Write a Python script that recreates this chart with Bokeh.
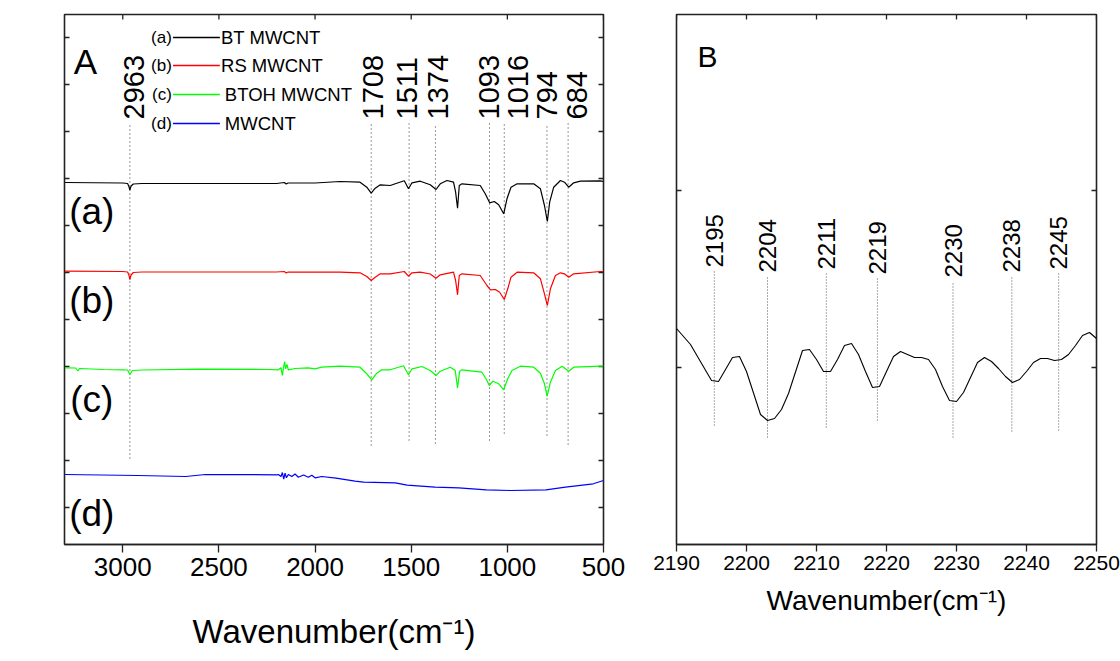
import math
from bokeh.plotting import figure
from bokeh.models import Range1d, FixedTicker, Label, ColumnDataSource
from bokeh.layouts import row
from bokeh.embed import file_html
from bokeh.resources import INLINE
from bokeh.core.properties import value

FONT = "Liberation Sans, Arial"

# ---------------- Panel A data (wavenumber, %T offset units) ----------------
a_wn = [3300, 3000, 2975, 2968, 2963, 2957, 2945, 2900, 2600, 2200, 2160, 2150, 2140, 2000, 1870, 1766,
        1731, 1708, 1687, 1661, 1609, 1583, 1536, 1514, 1496, 1453, 1401, 1371, 1349, 1314, 1280, 1269,
        1259, 1250, 1236, 1141, 1115, 1092, 1068, 1045, 1019, 1002, 981, 949, 863, 828, 807, 792, 780,
        759, 724, 703, 681, 655, 620, 516, 500]
a_T = [362, 361.5, 361, 358, 354.5, 358.5, 360.5, 361, 361, 361, 362, 360.5, 361.5, 361.5, 363, 362.3,
       357.3, 351.3, 356.3, 359.7, 359, 360.7, 363.7, 355.7, 361.7, 363.3, 359.7, 355, 360.7, 364, 362.3,
       352.3, 336.3, 359, 360.7, 359, 350.7, 341.7, 343, 339.7, 330.7, 345.7, 357.3, 360.7, 360.7, 355.7,
       339, 323, 342.3, 357.3, 364, 362.3, 357.3, 361.7, 363.3, 363.7, 363]

b_wn = [3300, 3000, 2975, 2968, 2963, 2957, 2945, 2900, 2200, 2160, 2150, 2140, 1870, 1766, 1731, 1708,
        1687, 1661, 1609, 1536, 1514, 1496, 1453, 1401, 1371, 1349, 1280, 1269, 1259, 1250, 1236, 1141,
        1106, 1088, 1062, 1040, 1016, 998, 981, 949, 863, 828, 807, 792, 776, 750, 724, 703, 681, 655,
        516, 500]
b_T = [273.3, 273, 272.5, 269.5, 265, 269.5, 272, 272.5, 272.5, 273, 271.5, 272.5, 272.3, 271.7, 268, 264,
       267.3, 270.7, 270.7, 273, 268.3, 271.7, 272.3, 270.5, 266.3, 269.7, 272.3, 264, 249.7, 269, 270.7, 269,
       259, 254.7, 255, 252.3, 245, 255.7, 267.3, 272.3, 271.7, 265.7, 250.7, 239, 255.7, 269, 271.7, 270.7,
       267.3, 270.7, 273, 273]

c_wn = [3300, 3245, 3233, 3225, 3100, 3000, 2975, 2963, 2950, 2900, 2600, 2243, 2191, 2177, 2170, 2163,
        2158, 2153, 2146, 2139, 2104, 2035, 2000, 1965, 1870, 1766, 1731, 1705, 1682, 1653, 1609, 1540,
        1514, 1496, 1444, 1401, 1371, 1349, 1297, 1271, 1259, 1248, 1236, 1132, 1106, 1094, 1075, 1045,
        1019, 998, 976, 932, 863, 828, 807, 793, 776, 750, 715, 681, 655, 507, 500]
c_T = [176.7, 176.5, 173.5, 176, 175, 174.7, 174.5, 170, 174, 174.5, 175.3, 175, 174.7, 176.7, 169, 178,
       183, 175.7, 180, 174.7, 176, 176.7, 175.7, 177.3, 178.3, 177.3, 170.7, 164.7, 170.7, 174.7, 174.7,
       178.7, 169.7, 175.7, 178, 174, 169, 173.3, 177.3, 174, 156.7, 173.3, 174.7, 172.3, 164, 159, 163.3,
       160.7, 154.7, 165.7, 174, 178.3, 177.3, 171.3, 160.7, 148.3, 162.3, 174, 178.3, 173.3, 177.3, 178.3,
       178.3]

d_wn = [3300, 2922, 2673, 2570, 2199, 2191, 2177, 2170, 2163, 2156, 2149, 2139, 2121, 2104, 2087, 2060,
        2035, 2017, 2000, 1965, 1891, 1792, 1747, 1583, 1521, 1376, 1253, 1109, 984, 799, 698, 553, 500]
d_T = [70, 69, 68, 70, 69.7, 70, 68, 72, 65.3, 71.3, 66.7, 70, 68, 70.5, 67.3, 69.5, 67.3, 69.3, 66.7, 68,
       66.3, 63.3, 62.3, 61.7, 59.3, 57.3, 56.7, 54.7, 54, 54.7, 57.3, 60.7, 64]

series_tags = ["(a)", "(b)", "(c)", "(d)"]
series_names = ["BT MWCNT", "RS MWCNT", "BTOH MWCNT", "MWCNT"]
series_colors = ["#000000", "#ff0000", "#00ff00", "#0000ff"]

A_peaks = [2963, 1708, 1511, 1374, 1093, 1016, 794, 684]
A_peak_labels = ["2963", "1708", "1511", "1374", "1093", "1016", "794", "684"]
A_line_top = [421, 421, 421, 421, 421, 421, 421, 421]
A_line_bottom = [86, 99, 104, 101, 104, 111, 109, 100]

A_xticks = [3000, 2500, 2000, 1500, 1000, 500]
A_yticks = [37, 84, 131, 178, 225, 272, 319, 366, 413, 460, 507]

# ---------------- Panel B data ----------------
B_wn = [2190, 2192, 2195, 2196, 2198, 2199, 2200, 2202, 2203, 2204, 2205, 2206, 2208, 2209, 2210, 2211,
        2212, 2213, 2214, 2215, 2216, 2217, 2218, 2219, 2220, 2221, 2222, 2223, 2224, 2225, 2226, 2227,
        2228, 2229, 2230, 2231, 2232, 2233, 2234, 2235, 2236, 2237, 2238, 2239, 2240, 2241, 2242, 2243,
        2244, 2245, 2246, 2247, 2248, 2249, 2250]
B_T = [216, 200, 164, 163, 187, 188, 173, 130, 124, 126, 135, 151, 194, 195, 185, 173, 173, 185, 199, 201,
       190, 173, 157, 158, 173, 188, 193, 190, 187, 187, 185, 175, 158, 144, 143, 152, 167, 182, 187, 183,
       176, 168, 162, 165, 173, 182, 186, 186, 184, 185, 190, 199, 209, 212, 206]

B_peaks = [2195.4, 2203.0, 2211.4, 2218.7, 2229.5, 2237.9, 2244.6]
B_peak_labels = ["2195", "2204", "2211", "2219", "2230", "2238", "2245"]
B_line_top = [273, 268, 271, 266, 263, 268, 271]
B_line_bottom = [119, 107, 117, 124, 107, 113, 114]

B_xticks = [2190, 2200, 2210, 2220, 2230, 2240, 2250]
B_yticks = [177, 354]

# layout-only constants
A_label_dx = [4, 2, -2, 3, 0, 14, 0, 9]
AXIS_COLOR = "#222222"
XLABEL = "Wavenumber(cm\u207b\u00b9)"


def style_common(p):
    p.grid.visible = False
    p.outline_line_color = AXIS_COLOR
    p.outline_line_width = 1.6
    p.background_fill_color = "white"
    p.border_fill_color = "white"


def inner_ticks(p, xticks, yticks):
    """Inward tick marks on the top, left and right frame edges (half of a dash is clipped)."""
    x0, x1 = p.x_range.start, p.x_range.end
    y1 = p.y_range.end
    p.scatter(x=xticks, y=[y1] * len(xticks), marker="dash", size=10, angle=math.pi / 2,
              line_color=AXIS_COLOR, line_width=1.3)
    p.scatter(x=[x0] * len(yticks), y=yticks, marker="dash", size=10,
              line_color=AXIS_COLOR, line_width=1.3)
    p.scatter(x=[x1] * len(yticks), y=yticks, marker="dash", size=10,
              line_color=AXIS_COLOR, line_width=1.3)


def style_xaxis(ax, ticks, tick_size, label_size, tick_out, std, lab_std):
    ax.ticker = FixedTicker(ticks=ticks)
    ax.major_tick_out = tick_out
    ax.major_tick_in = 0
    ax.minor_tick_line_color = None
    ax.major_label_text_font = FONT
    ax.major_label_text_font_size = tick_size
    ax.major_label_text_color = "black"
    ax.major_label_standoff = std
    ax.axis_line_color = AXIS_COLOR
    ax.axis_line_width = 1.6
    ax.major_tick_line_color = AXIS_COLOR
    ax.major_tick_line_width = 1.3
    ax.axis_label = XLABEL
    ax.axis_label_text_font = FONT
    ax.axis_label_text_font_size = label_size
    ax.axis_label_text_font_style = "normal"
    ax.axis_label_text_color = "black"
    ax.axis_label_standoff = lab_std


# ================= Figure A =================
pA = figure(frame_width=539, frame_height=530, x_range=Range1d(3303, 500), y_range=Range1d(0, 530),
            output_backend="svg", toolbar_location=None, y_axis_location=None,
            min_border_left=64, min_border_right=37, min_border_top=14, min_border_bottom=117)
style_common(pA)
style_xaxis(pA.xaxis[0], A_xticks, "26px", "33px", 8, 5, 34)
inner_ticks(pA, A_xticks, A_yticks)

# peak guide lines
pA.segment(x0=A_peaks, y0=A_line_bottom, x1=A_peaks, y1=A_line_top, line_color="#333333",
           line_width=1, line_dash="1 3")

# spectra
for wn, tt, col in zip([a_wn, b_wn, c_wn, d_wn], [a_T, b_T, c_T, d_T], series_colors):
    pA.line(wn, tt, line_color=col, line_width=1.2)

# peak labels (rotated)
srcA = ColumnDataSource(dict(x=A_peaks, y=[t + 4 for t in A_line_top], t=A_peak_labels, dx=A_label_dx))
pA.text(x="x", y="y", text="t", x_offset="dx", source=srcA, angle=math.pi / 2, text_align="left",
        text_baseline="middle", text_font=value(FONT), text_font_size="29px", text_color="black")

# series tags (a)..(d) next to the curves
tag_y = [333, 244, 145, 31]
pA.text(x=[3161] * 4, y=tag_y, text=series_tags, text_align="center", text_baseline="middle",
        text_font=value(FONT), text_font_size="37px", text_color="black")

# legend block
leg_y = [507, 479, 450, 421]
pA.text(x=[2745] * 4, y=leg_y, text=series_tags, text_align="right", text_baseline="middle",
        text_font=value(FONT), text_font_size="17px", text_color="black")
pA.segment(x0=[2739] * 4, y0=leg_y, x1=[2495] * 4, y1=leg_y, line_color=series_colors, line_width=1.3)
pA.text(x=[2489, 2489, 2469, 2469], y=leg_y, text=series_names, text_align="left", text_baseline="middle",
        text_font=value(FONT), text_font_size="18.5px", text_color="black")

pA.add_layout(Label(x=3255, y=483, text="A", text_font=FONT, text_font_size="35px",
                    text_align="left", text_baseline="middle", text_color="black"))
pA.add_layout(Label(x=3490, y=314, text="% T", text_font=FONT, text_font_size="40px", angle=math.pi / 2,
                    text_align="center", text_baseline="middle", text_color="black"))

# ================= Figure B =================
pB = figure(frame_width=420, frame_height=530, x_range=Range1d(2190, 2250), y_range=Range1d(0, 530),
            output_backend="svg", toolbar_location=None, y_axis_location=None,
            min_border_left=36, min_border_right=24, min_border_top=14, min_border_bottom=117)
style_common(pB)
style_xaxis(pB.xaxis[0], B_xticks, "21px", "28px", 7, 4, 12)
inner_ticks(pB, B_xticks, B_yticks)

pB.segment(x0=B_peaks, y0=B_line_bottom, x1=B_peaks, y1=B_line_top, line_color="#555555",
           line_width=1, line_dash="1 2")
pB.line(B_wn, B_T, line_color="black", line_width=1.1)

srcB = ColumnDataSource(dict(x=B_peaks, y=[t + 4 for t in B_line_top], t=B_peak_labels))
pB.text(x="x", y="y", text="t", source=srcB, angle=math.pi / 2, text_align="left",
        text_baseline="middle", text_font=value(FONT), text_font_size="24px", text_color="black")

pB.add_layout(Label(x=2193, y=488, text="B", text_font=FONT, text_font_size="30px",
                    text_align="left", text_baseline="middle", text_color="black"))

layout = row(pA, pB)
open("out.html", "w").write(file_html(layout, INLINE))
